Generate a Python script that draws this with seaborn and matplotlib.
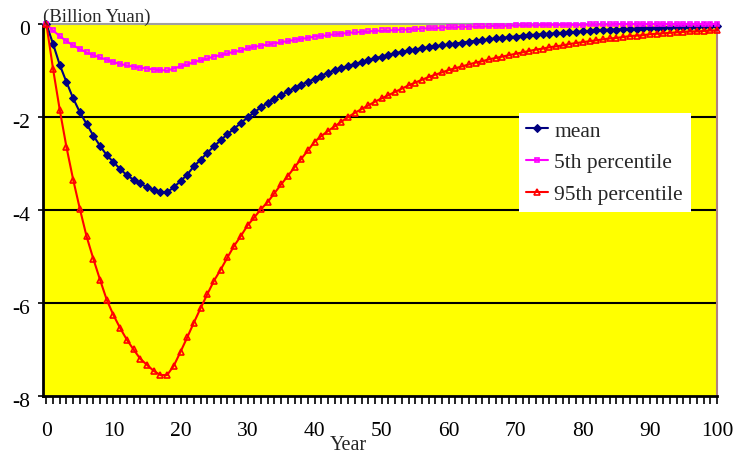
import numpy as np
import pandas as pd
import seaborn as sns
import matplotlib.pyplot as plt
import matplotlib.transforms as mtransforms
from matplotlib.ticker import MultipleLocator

# Values (Billion Yuan), one per year 0..100
years = list(range(0, 101))

mean_vals = [
    0.0, -0.43, -0.88, -1.25, -1.60, -1.90, -2.15, -2.40, -2.62, -2.82,
    -2.97, -3.12, -3.25, -3.35, -3.43, -3.51, -3.57, -3.61, -3.62, -3.51,
    -3.38, -3.24, -3.06, -2.92, -2.77, -2.63, -2.50, -2.37, -2.25, -2.13,
    -2.01, -1.90, -1.79, -1.70, -1.61, -1.53, -1.45, -1.38, -1.31, -1.24,
    -1.18, -1.11, -1.05, -1.00, -0.95, -0.90, -0.86, -0.82, -0.78, -0.74,
    -0.70, -0.66, -0.63, -0.60, -0.57, -0.55, -0.52, -0.50, -0.48, -0.46,
    -0.44, -0.42, -0.40, -0.38, -0.36, -0.35, -0.33, -0.31, -0.30, -0.28,
    -0.27, -0.25, -0.24, -0.23, -0.22, -0.21, -0.20, -0.19, -0.18, -0.17,
    -0.16, -0.15, -0.14, -0.13, -0.12, -0.12, -0.11, -0.10, -0.10, -0.09,
    -0.09, -0.08, -0.08, -0.07, -0.07, -0.06, -0.06, -0.06, -0.05, -0.05,
    -0.05,
]

p5_vals = [
    0.0, -0.14, -0.26, -0.37, -0.46, -0.54, -0.61, -0.67, -0.72, -0.77,
    -0.82, -0.86, -0.89, -0.92, -0.94, -0.96, -0.98, -0.99, -1.00, -0.96,
    -0.91, -0.87, -0.82, -0.78, -0.74, -0.70, -0.67, -0.63, -0.60, -0.57,
    -0.52, -0.49, -0.47, -0.44, -0.42, -0.39, -0.37, -0.34, -0.32, -0.30,
    -0.27, -0.26, -0.24, -0.22, -0.21, -0.19, -0.18, -0.17, -0.16, -0.15,
    -0.14, -0.14, -0.13, -0.12, -0.12, -0.11, -0.10, -0.09, -0.09, -0.08,
    -0.07, -0.07, -0.06, -0.06, -0.05, -0.05, -0.05, -0.04, -0.04, -0.04,
    -0.03, -0.03, -0.03, -0.03, -0.02, -0.02, -0.02, -0.02, -0.02, -0.02,
    -0.02, -0.01, -0.01, -0.01, -0.01, 0.0, 0.0, 0.0, 0.0, 0.0,
    0.0, 0.0, 0.0, 0.0, 0.0, 0.0, 0.0, 0.0, 0.0, 0.0,
    0.0,
]

p95_vals = [
    0.0, -0.97, -1.85, -2.65, -3.35, -3.98, -4.57, -5.05, -5.50, -5.93,
    -6.26, -6.54, -6.79, -7.00, -7.20, -7.33, -7.46, -7.55, -7.55, -7.35,
    -7.05, -6.74, -6.42, -6.11, -5.81, -5.52, -5.28, -5.02, -4.77, -4.56,
    -4.33, -4.16, -3.98, -3.83, -3.64, -3.45, -3.27, -3.08, -2.90, -2.72,
    -2.53, -2.41, -2.30, -2.20, -2.10, -2.00, -1.91, -1.83, -1.75, -1.67,
    -1.60, -1.53, -1.46, -1.39, -1.32, -1.26, -1.20, -1.14, -1.09, -1.04,
    -0.99, -0.95, -0.91, -0.87, -0.83, -0.80, -0.76, -0.73, -0.70, -0.67,
    -0.64, -0.61, -0.58, -0.55, -0.53, -0.50, -0.48, -0.46, -0.43, -0.41,
    -0.39, -0.37, -0.35, -0.33, -0.31, -0.30, -0.28, -0.26, -0.25, -0.24,
    -0.22, -0.21, -0.20, -0.19, -0.18, -0.17, -0.16, -0.16, -0.15, -0.14,
    -0.14,
]

sns.set_style("ticks")
plt.rcParams['font.family'] = ['Liberation Serif', 'DejaVu Serif']
plt.rcParams['axes.unicode_minus'] = False

fig = plt.figure(figsize=(7.52, 4.56), dpi=100)
ax = fig.add_axes([0.0572, 0.1294, 0.8963, 0.8158])
ax.set_facecolor('#FFFF00')

# gridlines first so the lines sit on top
for yv in [-2, -4, -6]:
    ax.axhline(yv, color='black', lw=1.5, zorder=1)

sns.lineplot(x=years, y=mean_vals, ax=ax, color='#000080', lw=1.5,
             marker='D', markersize=4.2, markeredgecolor='#000080',
             label='mean', clip_on=False, zorder=3)
sns.lineplot(x=years, y=p5_vals, ax=ax, color='#FF00FF', lw=1.5,
             marker='s', markersize=3.5, markerfacecolor='none',
             markeredgecolor='#FF00FF', markeredgewidth=1.2,
             label='5th percentile', clip_on=False, zorder=3)
sns.lineplot(x=years, y=p95_vals, ax=ax, color='#FF0000', lw=1.5,
             marker='^', markersize=5, markerfacecolor='none',
             markeredgecolor='#FF0000', markeredgewidth=1.2,
             label='95th percentile', clip_on=False, zorder=3)

ax.set_xlim(-0.5, 100)
ax.set_ylim(-8, 0)
ax.xaxis.set_major_locator(MultipleLocator(10))
ax.xaxis.set_minor_locator(MultipleLocator(1))
ax.yaxis.set_major_locator(MultipleLocator(2))
ax.tick_params(axis='x', which='both', direction='out', length=5.5, width=1.2,
               colors='black')
ax.tick_params(axis='x', which='major', labelsize=15.5, pad=12.5)
ax.tick_params(axis='y', which='major', direction='out', length=3.6, width=1.2,
               labelsize=15.5, pad=5.5, colors='black')

# y labels sit a few pixels below their tick in the original
shift = mtransforms.ScaledTranslation(0, -3 / 100, fig.dpi_scale_trans)
for lab in ax.get_yticklabels():
    lab.set_transform(lab.get_transform() + shift)

for side in ['left', 'bottom']:
    ax.spines[side].set_color('black')
    ax.spines[side].set_linewidth(2)
ax.spines['top'].set_color('#A0A0A0')
ax.spines['top'].set_linewidth(1.5)
ax.spines['right'].set_color('#B08080')
ax.spines['right'].set_linewidth(1.5)
ax.spines['top'].set_visible(True)
ax.spines['right'].set_visible(True)

ax.set_xlabel('')
ax.set_ylabel('')

leg = ax.legend(loc='upper left', bbox_to_anchor=(0.706, 0.761),
                frameon=True, fancybox=False, framealpha=1, edgecolor='white',
                fontsize=15.5, handlelength=1.0, handletextpad=0.3,
                labelspacing=0.55, borderpad=0.35, borderaxespad=0)
leg.get_frame().set_linewidth(0)

fig.text(0.057, 0.942, '(Billion Yuan)', fontsize=13.5, ha='left', va='bottom')
fig.text(0.463, 0.002, 'Year', fontsize=14.5, ha='center', va='bottom')

fig.savefig('out.png', dpi=100)
